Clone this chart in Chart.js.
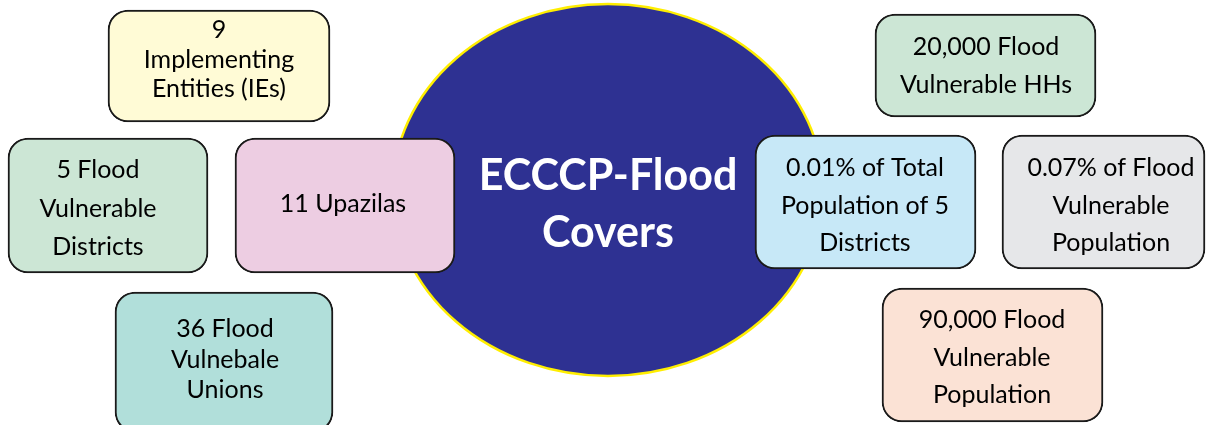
<!DOCTYPE html>
<html>
<head>
<meta charset="utf-8">
<script src="https://cdn.jsdelivr.net/npm/chart.js@4"></script>
<style>
  html, body { margin: 0; padding: 0; background: #fff; }
  canvas { display: block; }
</style>
</head>
<body>
<canvas id="flood-chart" width="1206" height="425"></canvas>
<script>
// text of every box
const boxLabels = [
  ["9", "Implementing", "Entities (IEs)"],
  ["5 Flood", "Vulnerable", "Districts"],
  ["11 Upazilas"],
  ["20,000 Flood", "Vulnerable HHs"],
  ["0.01% of Total", "Population of 5", "Districts"],
  ["0.07% of Flood", "Vulnerable", "Population"],
  ["36 Flood", "Vulnebale", "Unions"],
  ["90,000 Flood", "Vulnerable", "Population"]
];
const centerTitle = ["ECCCP-Flood", "Covers"];

// layout (0..1206 x 0..425 plot units)
const boxLeft = [108, 8, 235, 875, 755, 1002, 115, 882];
const boxRight = [330, 208, 455, 1096, 976, 1205, 333, 1103];
const boxTop = [10, 138, 138, 14, 135, 135, 292, 288];
const boxBottom = [122, 273, 273, 117, 269, 269, 432, 422];
const textX = [219, 98, 343, 986, 865, 1111, 225, 992];
const textBase = [38, 178, 212, 55, 176, 176, 337, 328];
const textStep = [29.5, 38.5, 0, 38, 37.5, 37.5, 30.5, 37.5];
const boxFills = ["#FFFBD6", "#CCE6D5", "#EDCDE2", "#CCE6D5", "#C7E8F7", "#E6E7E9", "#B1DFDA", "#FBE2D5"];

const ellipse = { cx: 608, cy: 190, rx: 215, ry: 186 };

const ellipsePlugin = {
  id: "ellipse",
  beforeDatasetsDraw(chart) {
    const { ctx, scales: { x, y } } = chart;
    const cx = x.getPixelForValue(ellipse.cx);
    const cy = y.getPixelForValue(ellipse.cy);
    const rx = x.getPixelForValue(ellipse.cx + ellipse.rx) - cx;
    const ry = y.getPixelForValue(ellipse.cy + ellipse.ry) - cy;
    ctx.save();
    ctx.beginPath();
    ctx.ellipse(cx, cy, rx, ry, 0, 0, Math.PI * 2);
    ctx.fillStyle = "#2E3192";
    ctx.fill();
    ctx.lineWidth = 2.5;
    ctx.strokeStyle = "#FFEE00";
    ctx.stroke();
    ctx.fillStyle = "#fff";
    ctx.font = "bold 43px Lato";
    ctx.textAlign = "center";
    ctx.textBaseline = "alphabetic";
    ctx.fillText(centerTitle[0], cx, y.getPixelForValue(190));
    ctx.fillText(centerTitle[1], cx, y.getPixelForValue(247));
    ctx.restore();
  }
};

const textPlugin = {
  id: "boxText",
  afterDatasetsDraw(chart) {
    const { ctx, scales: { x, y } } = chart;
    ctx.save();
    ctx.fillStyle = "#000";
    ctx.font = "25px Lato";
    ctx.textAlign = "center";
    ctx.textBaseline = "alphabetic";
    boxLabels.forEach((lines, i) => {
      lines.forEach((line, k) => {
        ctx.fillText(line, x.getPixelForValue(textX[i]), y.getPixelForValue(textBase[i] + k * textStep[i]));
      });
    });
    ctx.restore();
  }
};

const datasets = boxLabels.map((lines, i) => ({
  label: lines.join(" "),
  data: [{ x: [boxLeft[i], boxRight[i]], y: (boxTop[i] + boxBottom[i]) / 2 }],
  backgroundColor: boxFills[i],
  borderColor: "#1a1a1a",
  borderWidth: 2,
  borderRadius: 20,
  borderSkipped: false,
  barThickness: boxBottom[i] - boxTop[i],
  grouped: false
}));

new Chart(document.getElementById("flood-chart"), {
  type: "bar",
  data: { datasets: datasets },
  options: {
    indexAxis: "y",
    responsive: false,
    animation: false,
    layout: { padding: 0 },
    scales: {
      x: { type: "linear", min: 0, max: 1206, display: false, offset: false },
      y: { type: "linear", min: 0, max: 425, reverse: true, display: false, offset: false }
    },
    plugins: {
      legend: { display: false },
      tooltip: { enabled: false }
    }
  },
  plugins: [ellipsePlugin, textPlugin]
});
</script>
</body>
</html>
